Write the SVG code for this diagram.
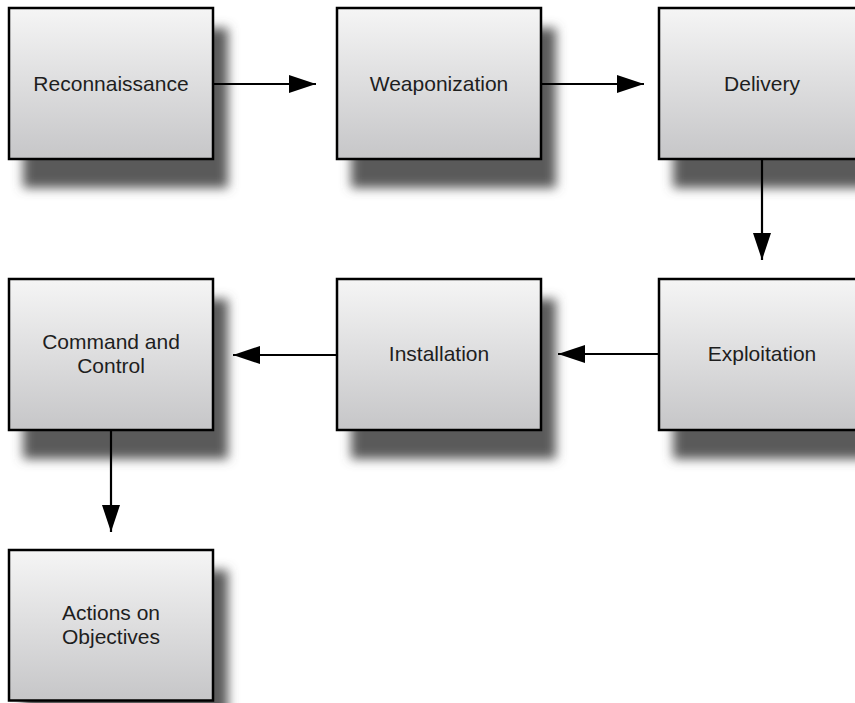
<svg xmlns="http://www.w3.org/2000/svg" width="855" height="703" viewBox="0 0 855 703">
  <defs>
    <linearGradient id="boxFill" x1="0" y1="0" x2="0" y2="1">
      <stop offset="0" stop-color="#f5f5f5"/>
      <stop offset="1" stop-color="#c6c6c8"/>
    </linearGradient>
    <filter id="softShadow" x="-20%" y="-20%" width="140%" height="140%">
      <feGaussianBlur stdDeviation="5.5"/>
    </filter>
    <marker id="arrow" markerWidth="27" markerHeight="18" refX="27" refY="9" orient="auto" markerUnits="userSpaceOnUse">
      <path d="M0,0 L27,9 L0,18 Z" fill="#000"/>
    </marker>
  </defs>
  <style>
    .shadow { fill: #5a5a5a; filter: url(#softShadow); }
    .box { fill: url(#boxFill); stroke: #000; stroke-width: 2.5; }
    .label { font-family: "Liberation Sans", Arial, Helvetica, sans-serif; font-size: 21px; fill: #1e1e1e; text-anchor: middle; }
    .link { stroke: #000; stroke-width: 2.2; fill: none; marker-end: url(#arrow); }
  </style>
  <rect width="855" height="703" fill="#fff"/>

  <!-- row 1 -->
  <g id="reconnaissance">
    <rect class="shadow" x="23" y="28" width="205" height="160"/>
    <rect class="box" x="9" y="8" width="204" height="151"/>
    <text class="label" x="111" y="91">Reconnaissance</text>
  </g>
  <g id="weaponization">
    <rect class="shadow" x="351" y="28" width="205" height="160"/>
    <rect class="box" x="337" y="8" width="204" height="151"/>
    <text class="label" x="439" y="91">Weaponization</text>
  </g>
  <g id="delivery">
    <rect class="shadow" x="673" y="28" width="205" height="160"/>
    <rect class="box" x="659" y="8" width="212" height="151"/>
    <text class="label" x="762" y="91">Delivery</text>
  </g>

  <!-- row 2 -->
  <g id="command-and-control">
    <rect class="shadow" x="23" y="299" width="205" height="160"/>
    <rect class="box" x="9" y="279" width="204" height="151"/>
    <text class="label" x="111" y="349">Command and</text>
    <text class="label" x="111" y="373">Control</text>
  </g>
  <g id="installation">
    <rect class="shadow" x="351" y="299" width="205" height="160"/>
    <rect class="box" x="337" y="279" width="204" height="151"/>
    <text class="label" x="439" y="361">Installation</text>
  </g>
  <g id="exploitation">
    <rect class="shadow" x="673" y="299" width="205" height="160"/>
    <rect class="box" x="659" y="279" width="212" height="151"/>
    <text class="label" x="762" y="361">Exploitation</text>
  </g>

  <!-- row 3 -->
  <g id="actions-on-objectives">
    <rect class="shadow" x="23" y="570" width="205" height="160"/>
    <rect class="box" x="9" y="550" width="204" height="150.5"/>
    <text class="label" x="111" y="620">Actions on</text>
    <text class="label" x="111" y="644">Objectives</text>
  </g>

  <!-- connectors -->
  <g id="connectors">
    <line class="link" x1="214" y1="84" x2="316" y2="84"/>
    <line class="link" x1="542" y1="84" x2="644" y2="84"/>
    <line class="link" x1="762" y1="160" x2="762" y2="260"/>
    <line class="link" x1="658" y1="354" x2="558" y2="354"/>
    <line class="link" x1="336" y1="355" x2="233" y2="355"/>
    <line class="link" x1="111" y1="431" x2="111" y2="532"/>
  </g>
</svg>
